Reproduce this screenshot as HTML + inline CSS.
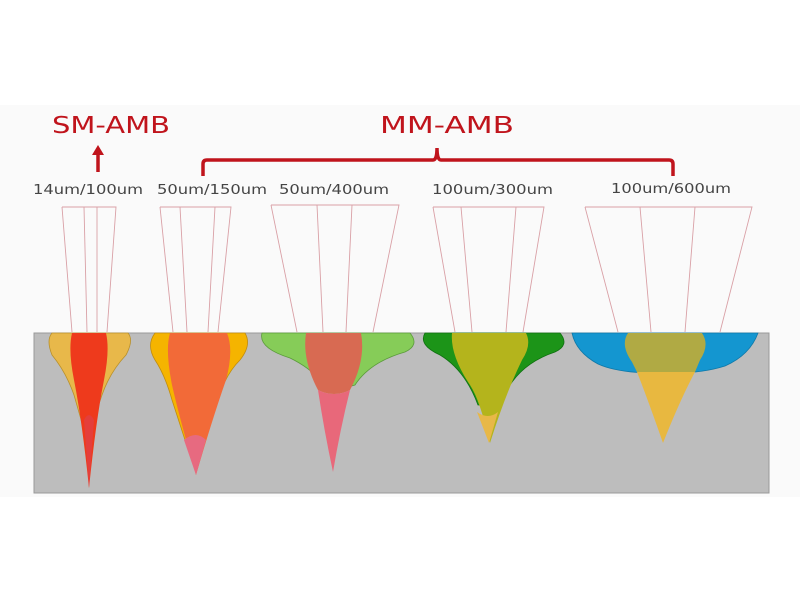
<!DOCTYPE html>
<html><head><meta charset="utf-8"><style>
html,body{margin:0;padding:0;background:#fff;}
svg{display:block;}
text{font-family:"DejaVu Sans","Liberation Sans",sans-serif;}
</style></head><body>
<svg width="800" height="600" viewBox="0 0 800 600">
<rect x="0" y="105" width="800" height="392" fill="#fafafa"/>
<!-- titles -->
<text x="52" y="133" font-size="23" fill="#c0141c" textLength="118" lengthAdjust="spacingAndGlyphs">SM-AMB</text>
<text x="380" y="133" font-size="23" fill="#c0141c" textLength="134" lengthAdjust="spacingAndGlyphs">MM-AMB</text>
<path d="M98 172 V152" stroke="#c0141c" stroke-width="3.5"/>
<path d="M92 155 L98 145 L104 155 Z" fill="#c0141c"/>
<path d="M203 176 V164 Q203 160 207 160 H433 Q437 160 437 148 Q437 160 441 160 H669 Q673 160 673 164 V176" fill="none" stroke="#c0141c" stroke-width="3.5"/>
<g font-size="13" fill="#444">
<text x="33" y="194" textLength="110" lengthAdjust="spacingAndGlyphs">14um/100um</text>
<text x="157" y="194" textLength="110" lengthAdjust="spacingAndGlyphs">50um/150um</text>
<text x="279" y="194" textLength="110" lengthAdjust="spacingAndGlyphs">50um/400um</text>
<text x="432" y="194" textLength="121" lengthAdjust="spacingAndGlyphs">100um/300um</text>
<text x="611" y="193" textLength="120" lengthAdjust="spacingAndGlyphs">100um/600um</text>
</g>
<!-- beams -->
<g fill="none" stroke="#d9a0a6" stroke-width="0.9">
<path d="M62 207 H116 L107 332 M62 207 L72 332 M84 207 L87 332 M97 207 L97 332"/>
<path d="M160 207 H231 L218 332 M160 207 L173 332 M180 207 L187 332 M215 207 L208 332"/>
<path d="M271 205 H399 L373 332 M271 205 L297 332 M317 205 L323 332 M352 205 L346 332"/>
<path d="M433 207 H544 L523 332 M433 207 L455 332 M461 207 L472 332 M516 207 L506 332"/>
<path d="M585 207 H752 L720 332 M585 207 L618 332 M640 207 L651 332 M695 207 L685 332"/>
</g>
<!-- block -->
<rect x="34" y="333" width="735" height="160" fill="#bdbdbd" stroke="#999" stroke-width="1"/>
<!-- weld 1 -->
<path d="M52 333 H128 Q134 340 126 355 Q110 372 102 395 L90 430 L84 430 L74 395 Q66 372 52 355 Q46 340 52 333Z" fill="#e8b84a" stroke="#b8902a" stroke-width="0.8"/>
<path d="M72 333 H106 Q110 350 104 380 Q96 420 89 488 Q82 420 74 380 Q68 350 72 333Z" fill="#ee3a1c"/>
<path d="M84 420 Q89 410 94 420 L89 488Z" fill="#e04048" opacity="0.7"/>
<!-- weld 2 -->
<path d="M155 333 H245 Q252 345 240 360 Q225 375 218 400 L196 440 L185 440 L172 400 Q165 375 155 360 Q146 345 155 333Z" fill="#f5b400" stroke="#c08c10" stroke-width="0.8"/>
<path d="M170 333 H227 Q234 350 226 380 Q212 420 196 475 Q180 420 172 385 Q165 350 170 333Z" fill="#f26a38"/>
<path d="M184 440 Q196 430 206 440 L196 475Z" fill="#e76a80"/>
<!-- weld 3 -->
<path d="M262 333 H410 Q420 345 405 352 Q370 362 355 385 L330 392 Q315 370 290 358 Q258 348 262 333Z" fill="#86cc58" stroke="#5a9a3a" stroke-width="0.8"/>
<path d="M306 333 H361 Q366 360 350 390 Q334 398 318 390 Q302 360 306 333Z" fill="#d86a52"/>
<path d="M318 390 Q334 398 350 390 Q340 430 333 472 Q324 430 318 390Z" fill="#e8687a"/>
<!-- weld 4 -->
<path d="M425 333 H560 Q570 345 555 352 Q525 362 510 385 L490 405 L478 405 Q465 370 440 355 Q418 345 425 333Z" fill="#1c9418" stroke="#0f6f10" stroke-width="0.8"/>
<path d="M452 333 H526 Q532 345 522 360 Q505 395 490 443 Q480 400 470 385 Q450 355 452 333Z" fill="#b4b41c"/>
<path d="M477 412 Q488 420 498 412 L489 443Z" fill="#e8b848"/>
<!-- weld 5 -->
<path d="M572 333 H758 Q750 355 725 366 Q700 374 665 373 Q620 374 598 364 Q576 352 572 333Z" fill="#1496d0" stroke="#0e78a8" stroke-width="0.8"/>
<path d="M628 333 H702 Q710 345 700 360 L695 372 H637 L632 362 Q620 345 628 333Z" fill="#b0aa44"/>
<path d="M637 372 H695 Q680 400 663 443 Q648 400 637 372Z" fill="#e8b840"/>
</svg>
</body></html>
